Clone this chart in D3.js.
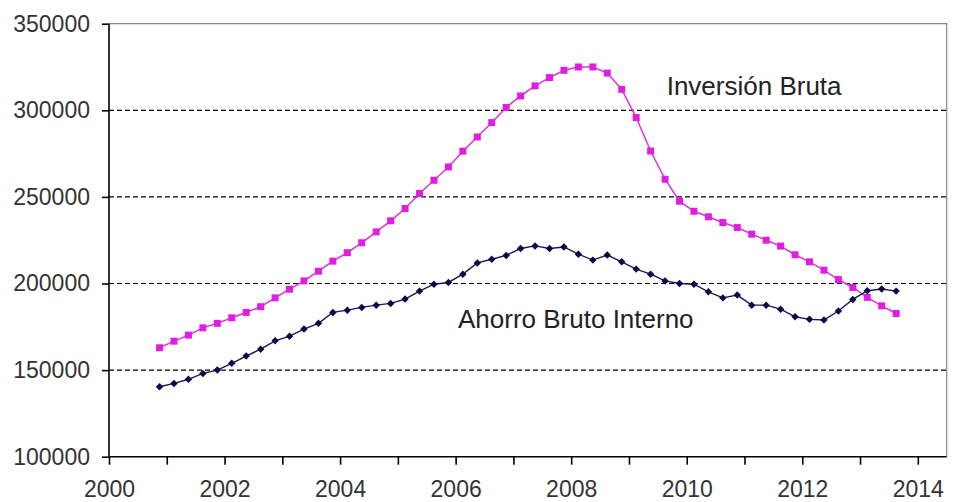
<!DOCTYPE html>
<html>
<head>
<meta charset="utf-8">
<script src="https://cdn.jsdelivr.net/npm/d3@7"></script>
<style>
  body { margin: 0; background: #fff; }
  svg { display: block; font-family: "Liberation Sans", Arial, sans-serif; }
</style>
</head>
<body>
<svg id="chart"></svg>
<script>
// quarterly series, first point at 2000.875
var startYear = 2000.875;
var step = 0.25;

var inversion = [162900, 166700, 170200, 174400, 177000, 180200, 183300, 186600, 191700, 196700,
    201500, 207100, 212900, 217800, 223500, 229800, 236200, 243300, 252000, 259600,
    267300, 276400, 284600, 292900, 301600, 308300, 314100, 318900, 323100, 325000,
    325000, 321500, 312100, 295800, 276500, 260200, 247500, 241700, 238500, 235200,
    232300, 228500, 225000, 221600, 216600, 212500, 207700, 202300, 197700, 192000,
    187100, 182700];

var ahorro = [140400, 142300, 144700, 148100, 150000, 153900, 158100, 162100, 166900, 169600,
    173700, 177000, 183300, 184600, 186200, 187500, 188500, 191000, 195600, 199600,
    200600, 205400, 211900, 214000, 216200, 220200, 221700, 220200, 221100, 216900,
    213500, 216400, 212500, 208300, 205400, 201500, 200000, 199600, 195200, 191700,
    193300, 187500, 187500, 185200, 180800, 179300, 178900, 184100, 190800, 195800,
    196800, 195600];

var yTicks = [100000, 150000, 200000, 250000, 300000, 350000];
var gridValues = [150000, 200000, 250000, 300000];
var xTicks = d3.range(2000, 2015, 1);

var svgWidth = 954, svgHeight = 502;
var plotLeft = 109, plotRight = 946.7, plotTop = 23.7, plotBottom = 456.7;

var svg = d3.select("#chart").attr("width", svgWidth).attr("height", svgHeight);

var x = d3.scaleLinear().domain([2000, 2014.5]).range([plotLeft, plotRight]);
var y = d3.scaleLinear().domain([100000, 350000]).range([plotBottom, plotTop]);

// grid lines
svg.selectAll(".grid")
    .data(gridValues)
    .enter().append("line")
    .attr("x1", plotLeft).attr("x2", plotRight)
    .attr("y1", function (d) { return y(d); })
    .attr("y2", function (d) { return y(d); })
    .style("stroke", "#000")
    .style("stroke-width", 1.2)
    .style("stroke-dasharray", "5,3");

// plot frame (top + right in gray)
svg.append("path")
    .attr("d", "M" + plotLeft + "," + y(350000) + "H" + plotRight + "V" + plotBottom)
    .style("fill", "none")
    .style("stroke", "#888")
    .style("stroke-width", 1.2);

var yAxis = svg.append("g")
    .attr("transform", "translate(" + plotLeft + ",0)")
    .call(d3.axisLeft(y).tickValues(yTicks).tickSize(7).tickPadding(12).tickFormat(d3.format("d")));

var xAxis = svg.append("g")
    .attr("transform", "translate(0," + plotBottom + ")")
    .call(d3.axisBottom(x).tickValues(xTicks).tickSize(8).tickPadding(16)
        .tickFormat(function (d) { return d % 2 === 0 ? d : ""; }));

[yAxis, xAxis].forEach(function (g) {
    g.attr("font-size", null).attr("font-family", null);
    g.select(".domain").style("stroke", "#000").style("stroke-width", 1.6);
    g.selectAll(".tick line").style("stroke", "#000").style("stroke-width", 1.6);
    g.selectAll("text")
        .style("font-family", "'Liberation Sans', Arial, sans-serif")
        .style("font-size", "23px")
        .style("fill", "#333");
});
// drop the outer end caps of the domain paths
xAxis.select(".domain").attr("d", "M" + plotLeft + ",0H" + plotRight);
yAxis.select(".domain").attr("d", "M0," + plotBottom + "V" + y(350000));

var line = d3.line()
    .x(function (d, i) { return x(startYear + i * step); })
    .y(function (d) { return y(d); });

// Inversión Bruta
svg.append("path")
    .datum(inversion)
    .attr("d", line)
    .style("fill", "none")
    .style("stroke", "#e030e0")
    .style("stroke-width", 1.5);

svg.selectAll(".sq")
    .data(inversion)
    .enter().append("rect")
    .attr("x", function (d, i) { return x(startYear + i * step) - 3.5; })
    .attr("y", function (d) { return y(d) - 3.5; })
    .attr("width", 7)
    .attr("height", 7)
    .style("fill", "#e01ee0");

// Ahorro Bruto Interno
svg.append("path")
    .datum(ahorro)
    .attr("d", line)
    .style("fill", "none")
    .style("stroke", "#1a1a50")
    .style("stroke-width", 1.4);

var diamond = d3.symbol().type(d3.symbolSquare).size(28);
svg.selectAll(".dm")
    .data(ahorro)
    .enter().append("path")
    .attr("d", diamond)
    .attr("transform", function (d, i) {
        return "translate(" + x(startYear + i * step) + "," + y(d) + ") rotate(45)";
    })
    .style("fill", "#0a0a4a");

// series labels
svg.append("text")
    .attr("x", 666.7).attr("y", 95)
    .style("font-size", "26px")
    .style("fill", "#222")
    .text("Inversión Bruta");

svg.append("text")
    .attr("x", 458).attr("y", 328)
    .style("font-size", "26px")
    .style("fill", "#222")
    .text("Ahorro Bruto Interno");
</script>
</body>
</html>
